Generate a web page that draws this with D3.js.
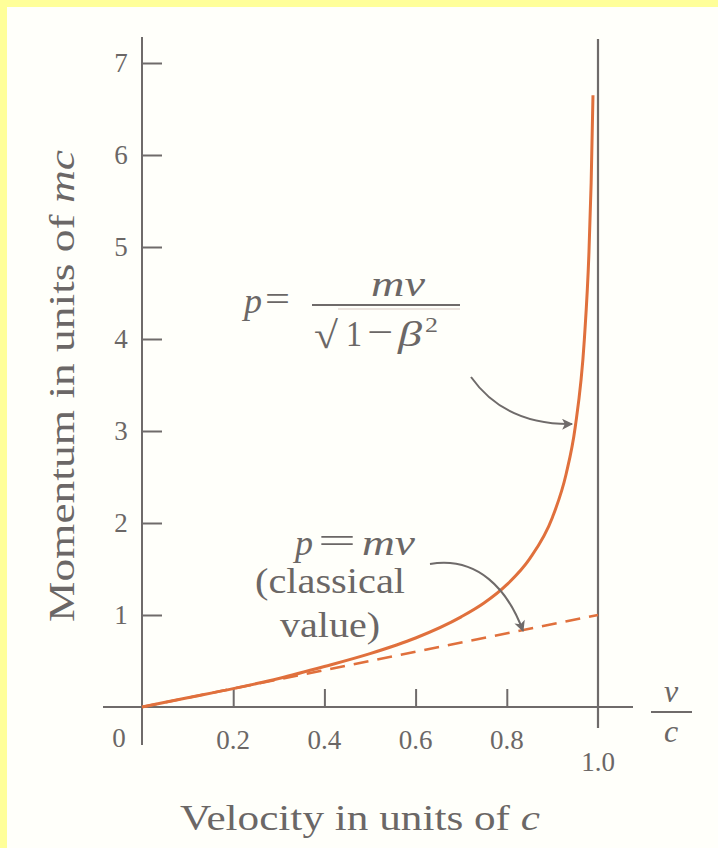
<!DOCTYPE html>
<html>
<head>
<meta charset="utf-8">
<script src="https://cdn.jsdelivr.net/npm/d3@7"></script>
<style>
  html, body { margin: 0; padding: 0; background: #ffff99; }
  svg { display: block; }
  text { font-family: "Liberation Serif", "Times New Roman", serif; fill: #6b6766; }
</style>
</head>
<body>
<svg id="chart" width="718" height="848"></svg>
<script>
// Relativistic momentum p = mv / sqrt(1 - β²), in units of mc, against v/c
const velocity = [0, 0.1, 0.2, 0.3, 0.4, 0.5, 0.6, 0.7, 0.75, 0.8, 0.85, 0.9, 0.93, 0.95, 0.97, 0.98, 0.985, 0.989];
const momentum = [0, 0.10, 0.20, 0.31, 0.44, 0.58, 0.75, 0.98, 1.13, 1.33, 1.61, 2.06, 2.53, 3.04, 3.99, 4.92, 5.70, 6.65];
// Classical momentum p = mv (dashed straight line)
const classicalVelocity = [0, 1.0];
const classicalMomentum = [0, 1.0];
// Tick labels
const xTicks = [0.2, 0.4, 0.6, 0.8, 1.0];
const xTickLabels = ["0.2", "0.4", "0.6", "0.8", "1.0"];
const yTicks = [1, 2, 3, 4, 5, 6, 7];

const svg = d3.select("#chart");
const ink = "#6f6b6a";
const orange = "#e0703c";

// page background with the yellow strip on the top and left
svg.append("rect").attr("x", 7).attr("y", 7).attr("width", 711).attr("height", 841).attr("fill", "#fffffa");

const x = d3.scaleLinear().domain([0, 1]).range([142, 598]);
const y = d3.scaleLinear().domain([0, 7]).range([707, 63]);

// arrow head marker
const defs = svg.append("defs");
defs.append("marker")
  .attr("id", "head").attr("viewBox", "0 0 10 10")
  .attr("refX", 9).attr("refY", 5)
  .attr("markerWidth", 17).attr("markerHeight", 11)
  .attr("markerUnits", "userSpaceOnUse")
  .attr("orient", "auto")
  .append("path").attr("d", "M0,0 L10,5 L0,10 L2.5,5 Z").attr("fill", ink);

// axes lines
svg.append("line").attr("x1", x(0)).attr("x2", x(0)).attr("y1", 37).attr("y2", 745)
  .attr("stroke", ink).attr("stroke-width", 2);
svg.append("line").attr("x1", 103).attr("x2", 633).attr("y1", y(0)).attr("y2", y(0))
  .attr("stroke", ink).attr("stroke-width", 2.2);
// limit line at v = c
svg.append("line").attr("x1", x(1)).attr("x2", x(1)).attr("y1", 39).attr("y2", 728)
  .attr("stroke", ink).attr("stroke-width", 2.2);

// y ticks to the right of the axis
const yAxis = d3.axisRight(y).tickValues(yTicks).tickSize(20).tickFormat("");
const gy = svg.append("g").attr("transform", `translate(${x(0)},0)`).call(yAxis);
gy.select(".domain").remove();
gy.selectAll(".tick line").attr("stroke", ink).attr("stroke-width", 2);
svg.selectAll(".ylab").data(yTicks).join("text")
  .attr("class", "ylab")
  .attr("x", 121).attr("y", d => y(d) + 9)
  .attr("text-anchor", "middle").attr("font-size", 27)
  .text(d => d);

// x ticks pointing up from the axis
const xAxis = d3.axisTop(x).tickValues(xTicks.slice(0, 4)).tickSize(18).tickFormat("");
const gx = svg.append("g").attr("transform", `translate(0,${y(0)})`).call(xAxis);
gx.select(".domain").remove();
gx.selectAll(".tick line").attr("stroke", ink).attr("stroke-width", 2);
svg.selectAll(".xlab").data(xTicks).join("text")
  .attr("class", "xlab")
  .attr("x", d => x(d)).attr("y", d => d === 1 ? 771 : 749)
  .attr("text-anchor", "middle").attr("font-size", 27)
  .text((d, i) => xTickLabels[i]);
svg.append("text").attr("x", 119).attr("y", 747).attr("text-anchor", "middle")
  .attr("font-size", 27).text("0");

// v/c unit at the end of the x axis
svg.append("text").attr("x", 671).attr("y", 702).attr("text-anchor", "middle")
  .attr("font-size", 32).attr("font-style", "italic").text("v");
svg.append("line").attr("x1", 651).attr("x2", 692).attr("y1", 712).attr("y2", 712)
  .attr("stroke", ink).attr("stroke-width", 1.8);
svg.append("text").attr("x", 671).attr("y", 742).attr("text-anchor", "middle")
  .attr("font-size", 32).attr("font-style", "italic").text("c");

// classical line (dashed)
const classical = classicalVelocity.map((v, i) => [v, classicalMomentum[i]]);
svg.append("path").datum(classical)
  .attr("d", d3.line().x(d => x(d[0])).y(d => y(d[1])))
  .attr("fill", "none").attr("stroke", orange).attr("stroke-width", 2.6)
  .attr("stroke-dasharray", "15,9");

// relativistic curve
const relativistic = velocity.map((v, i) => [v, momentum[i]]);
svg.append("path").datum(relativistic)
  .attr("d", d3.line().x(d => x(d[0])).y(d => y(d[1])).curve(d3.curveMonotoneX))
  .attr("fill", "none").attr("stroke", orange).attr("stroke-width", 3);

// axis titles
svg.append("text").attr("x", 360).attr("y", 830).attr("text-anchor", "middle")
  .attr("font-size", 36)
  .attr("textLength", 360).attr("lengthAdjust", "spacingAndGlyphs")
  .html('Velocity in units of <tspan font-style="italic">c</tspan>');
svg.append("text").attr("transform", "translate(74,386) rotate(-90)")
  .attr("text-anchor", "middle").attr("font-size", 36)
  .attr("textLength", 472).attr("lengthAdjust", "spacingAndGlyphs")
  .html('Momentum in units of <tspan font-style="italic">mc</tspan>');

// small helper for placing one piece of formula text
function piece(tx, ty, str, size, italic, len) {
  const t = svg.append("text").attr("x", tx).attr("y", ty).attr("font-size", size).text(str);
  if (italic) t.attr("font-style", "italic");
  if (len) t.attr("textLength", len).attr("lengthAdjust", "spacingAndGlyphs");
  return t;
}

// formula label for the relativistic curve
piece(244, 313, "p", 36, true, 18);
piece(265, 311, "=", 36, false, 25);
svg.append("line").attr("x1", 312).attr("x2", 460).attr("y1", 305).attr("y2", 305)
  .attr("stroke", ink).attr("stroke-width", 1.8);
piece(371, 296, "mv", 36, true, 54);
piece(314, 348, "√", 38, false, 24);
svg.append("line").attr("x1", 338).attr("x2", 460).attr("y1", 309).attr("y2", 309)
  .attr("stroke", "#d8c8c0").attr("stroke-width", 1.2);
piece(346, 346, "1", 36, false, 16);
piece(367, 344, "−", 36, false, 26);
piece(398, 346, "β", 36, true, 24);
piece(425, 332, "2", 22, false, 13);

// classical label
piece(295, 555, "p", 36, true, 18);
piece(318, 553, "=", 36, false, 38);
piece(362, 555, "mv", 36, true, 53);
svg.append("text").attr("x", 330).attr("y", 593).attr("text-anchor", "middle")
  .attr("font-size", 36).attr("textLength", 150).attr("lengthAdjust", "spacingAndGlyphs")
  .text("(classical");
svg.append("text").attr("x", 330).attr("y", 637).attr("text-anchor", "middle")
  .attr("font-size", 36).attr("textLength", 100).attr("lengthAdjust", "spacingAndGlyphs")
  .text("value)");

// pointer arrows
svg.append("path").attr("d", "M471,377 Q505,425 572,424")
  .attr("fill", "none").attr("stroke", ink).attr("stroke-width", 2)
  .attr("marker-end", "url(#head)");
svg.append("path").attr("d", "M430,564 C478,556 508,590 523,631")
  .attr("fill", "none").attr("stroke", ink).attr("stroke-width", 2)
  .attr("marker-end", "url(#head)");
</script>
</body>
</html>
